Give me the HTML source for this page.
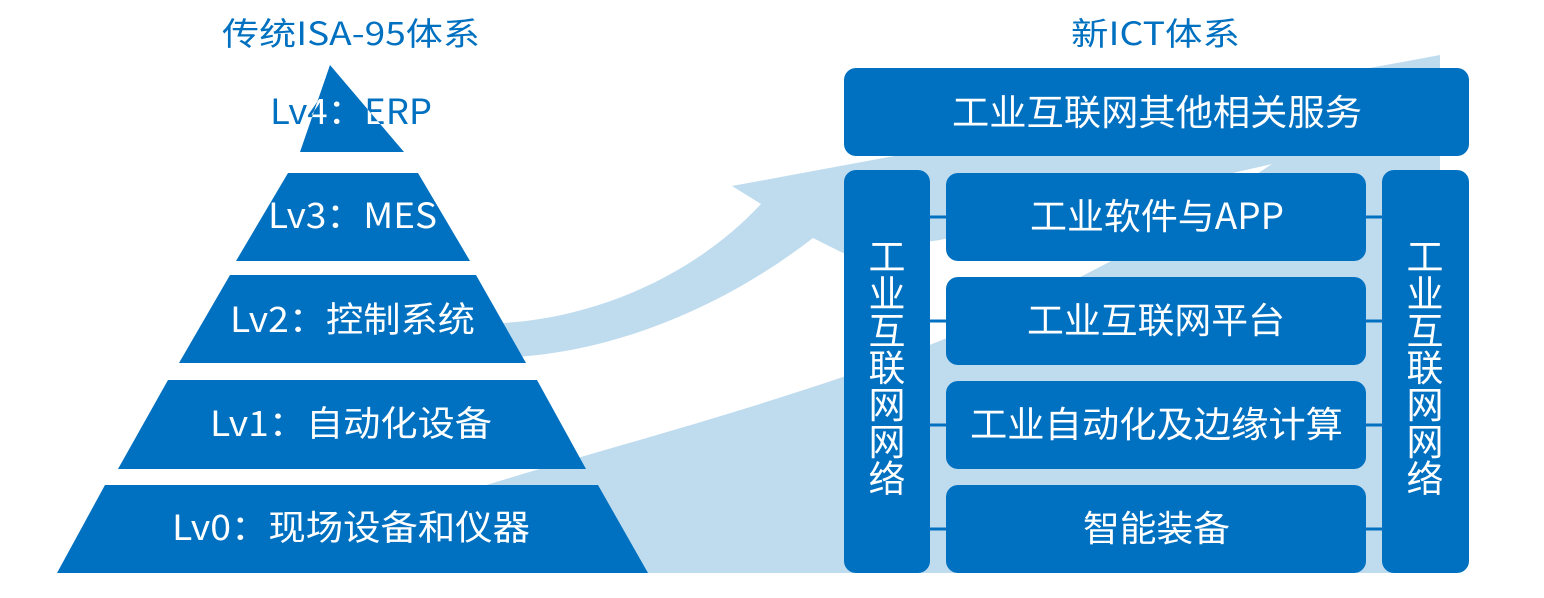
<!DOCTYPE html>
<html><head><meta charset="utf-8"><style>
html,body{margin:0;padding:0;background:#fff;}
svg{display:block}
text{font-family:"Noto Sans CJK SC","Liberation Sans",sans-serif;}
</style></head><body>
<svg width="1544" height="598" viewBox="0 0 1544 598" xmlns="http://www.w3.org/2000/svg">
<defs>
<clipPath id="c4"><polygon points="330,65 404,152 300,152"/></clipPath>
<clipPath id="c3"><polygon points="288,173 418,173 470,261 236,261"/></clipPath>
<clipPath id="c2"><polygon points="230,275 476,275 526,363 179,363"/></clipPath>
<clipPath id="c1"><polygon points="168,380 537,380 586,469 118,469"/></clipPath>
<clipPath id="c0"><polygon points="105,485 598,485 648,573 57,573"/></clipPath>
</defs>
<path d="M503,323 C590,318 690,280 761,204 L732,186 L1440,55 L1440,573 L480,573 L480,323 Z" fill="#bfdcef"/>
<path d="M480,358 C600,360 720,310 813,238 L843,253 L940,240 L1272,164 C1100,280 950,340 843,377 C700,425 600,450 480,487 Z" fill="#fff"/>
<g lengthAdjust="spacingAndGlyphs">
<text x="222" y="45" font-size="32" fill="#0070c0" textLength="258" lengthAdjust="spacingAndGlyphs">传统ISA-95体系</text>
<text x="1071" y="45" font-size="32" fill="#0070c0" textLength="169" lengthAdjust="spacingAndGlyphs">新ICT体系</text>
</g>
<g fill="#0070c0">
<polygon points="330,65 404,152 300,152"/>
<polygon points="288,173 418,173 470,261 236,261"/>
<polygon points="230,275 476,275 526,363 179,363"/>
<polygon points="168,380 537,380 586,469 118,469"/>
<polygon points="105,485 598,485 648,573 57,573"/>
</g>
<g font-size="35">
<text x="270" y="124" fill="#0070c0" textLength="162" lengthAdjust="spacingAndGlyphs">Lv4：ERP</text>
<text x="270" y="124" fill="#fff" clip-path="url(#c4)" textLength="162" lengthAdjust="spacingAndGlyphs">Lv4：ERP</text>
<text x="268" y="228" fill="#0070c0" textLength="169" lengthAdjust="spacingAndGlyphs">Lv3：MES</text>
<text x="268" y="228" fill="#fff" clip-path="url(#c3)" textLength="169" lengthAdjust="spacingAndGlyphs">Lv3：MES</text>
<text x="230" y="332" fill="#fff" textLength="245" lengthAdjust="spacingAndGlyphs">Lv2：控制系统</text>
<text x="210" y="436" fill="#fff" textLength="282" lengthAdjust="spacingAndGlyphs">Lv1：自动化设备</text>
<text x="172" y="540" fill="#fff" textLength="358" lengthAdjust="spacingAndGlyphs">Lv0：现场设备和仪器</text>
</g>
<g stroke="#0070c0" stroke-width="3">
<line x1="928" y1="217" x2="948" y2="217"/><line x1="928" y1="321" x2="948" y2="321"/>
<line x1="928" y1="425" x2="948" y2="425"/><line x1="928" y1="529" x2="948" y2="529"/>
<line x1="1364" y1="217" x2="1384" y2="217"/><line x1="1364" y1="321" x2="1384" y2="321"/>
<line x1="1364" y1="425" x2="1384" y2="425"/><line x1="1364" y1="529" x2="1384" y2="529"/>
</g>
<g fill="#0070c0">
<rect x="844" y="68" width="625" height="88" rx="12"/>
<rect x="844" y="170" width="86" height="403" rx="12"/>
<rect x="1382" y="170" width="87" height="403" rx="12"/>
<rect x="946" y="173" width="420" height="88" rx="12"/>
<rect x="946" y="277" width="420" height="88" rx="12"/>
<rect x="946" y="381" width="420" height="88" rx="12"/>
<rect x="946" y="485" width="420" height="88" rx="12"/>
</g>
<g fill="#fff" font-size="36">
<text x="952" y="125" textLength="410" lengthAdjust="spacingAndGlyphs">工业互联网其他相关服务</text>
<text x="1030" y="229" textLength="254" lengthAdjust="spacingAndGlyphs">工业软件与APP</text>
<text x="1027" y="333" textLength="258" lengthAdjust="spacingAndGlyphs">工业互联网平台</text>
<text x="970" y="437" textLength="373" lengthAdjust="spacingAndGlyphs">工业自动化及边缘计算</text>
<text x="1083" y="541" textLength="147" lengthAdjust="spacingAndGlyphs">智能装备</text>
</g>
<g fill="#fff" font-size="37" text-anchor="middle">
<text x="887" y="270">工</text><text x="887" y="307">业</text><text x="887" y="344">互</text>
<text x="887" y="381">联</text><text x="887" y="418">网</text><text x="887" y="455">网</text><text x="887" y="492">络</text>
<text x="1425" y="270">工</text><text x="1425" y="307">业</text><text x="1425" y="344">互</text>
<text x="1425" y="381">联</text><text x="1425" y="418">网</text><text x="1425" y="455">网</text><text x="1425" y="492">络</text>
</g>
</svg>
</body></html>
